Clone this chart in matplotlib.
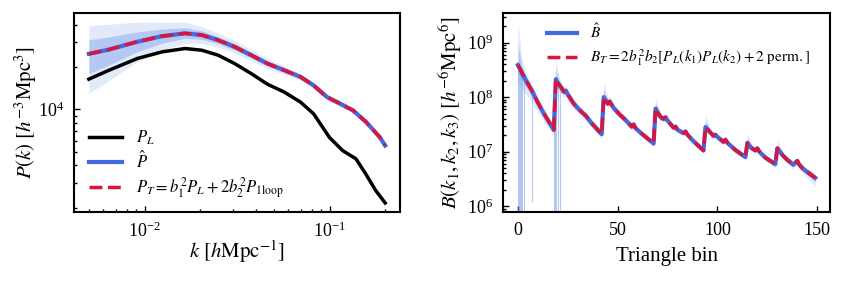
import numpy as np
import matplotlib
matplotlib.use('Agg')
import matplotlib.pyplot as plt

plt.rcParams['font.family'] = ['Liberation Serif', 'DejaVu Serif']
plt.rcParams['mathtext.fontset'] = 'stix'

# --- P(k): лінійний спектр P_L ---
k_lin = [0.005, 0.00644, 0.00914, 0.01245, 0.01656, 0.02037, 0.02495, 0.0307,
         0.0377, 0.0462, 0.0568, 0.0697, 0.0820, 0.1, 0.1178, 0.139, 0.157,
         0.178, 0.2]
p_lin = [16410, 19010, 23010, 25650, 27100, 26360, 24320, 21180, 17990, 15100,
         13300, 11270, 9310, 6310, 5090, 4450, 3475, 2640, 2160]

# --- P_T (і середнє \hat P) ---
k_nl = [0.005, 0.00644, 0.00914, 0.01245, 0.01656, 0.02037, 0.02495, 0.0307,
        0.0377, 0.0462, 0.0568, 0.0697, 0.0820, 0.0968, 0.114, 0.134, 0.158,
        0.187, 0.2]
p_tree = [24830, 26670, 30270, 33190, 34750, 33810, 31120, 27860, 24320, 21180,
          19010, 17020, 14830, 12250, 10990, 9840, 8110, 6340, 5530]
# розкид реалізацій \hat P (dex, вгору / вниз)
p_hat_hi = [0.20, 0.18, 0.14, 0.10, 0.08, 0.06, 0.05, 0.045, 0.04, 0.035,
            0.03, 0.025, 0.02, 0.02, 0.02, 0.02, 0.015, 0.015, 0.015]
p_hat_lo = [0.28, 0.22, 0.14, 0.10, 0.07, 0.06, 0.05, 0.045, 0.04, 0.035,
            0.03, 0.025, 0.02, 0.02, 0.02, 0.02, 0.015, 0.015, 0.015]

# --- B: трикутні біни ---
tri_bin = [0, 2, 4, 7, 10, 13, 16, 18,
           19, 20, 22, 23, 24, 25, 28, 31, 34, 37, 40, 42,
           43, 45, 46, 48, 51, 54, 57, 58, 59, 62, 65, 68,
           69, 71, 72, 73, 74, 75, 78, 79, 80, 83, 84, 85, 88, 93,
           94, 96, 98, 99, 100, 103, 104, 105, 109, 114,
           115, 117, 119, 120, 121, 124, 129,
           130, 133, 135, 138, 140, 141, 143, 146, 149]
b_tree = [3.89e8, 2.82e8, 2.04e8, 1.32e8, 7.94e7, 5.01e7, 3.31e7, 2.51e7,
          2.14e8, 1.82e8, 1.45e8, 1.26e8, 1.32e8, 1.12e8, 7.59e7, 5.75e7, 4.57e7, 3.31e7, 2.51e7, 2.09e7,
          1.00e8, 7.59e7, 8.32e7, 6.31e7, 4.79e7, 3.80e7, 2.88e7, 3.16e7, 2.69e7, 2.14e7, 1.74e7, 1.41e7,
          6.17e7, 4.57e7, 4.17e7, 3.98e7, 4.27e7, 3.72e7, 2.75e7, 2.88e7, 2.51e7, 2.19e7, 2.34e7, 2.04e7, 1.55e7, 1.05e7,
          2.82e7, 2.34e7, 1.95e7, 2.04e7, 1.86e7, 1.51e7, 1.66e7, 1.45e7, 1.07e7, 7.94e6,
          1.45e7, 1.17e7, 1.05e7, 1.15e7, 1.00e7, 7.76e6, 5.89e6,
          1.15e7, 8.32e6, 7.08e6, 5.75e6, 6.76e6, 5.75e6, 4.79e6, 3.98e6, 3.31e6]
b_hat_hi = [0.80, 0.25, 0.15, 0.12, 0.10, 0.10, 0.08, 0.08,
            0.38, 0.20, 0.10, 0.10, 0.10, 0.10, 0.08, 0.08, 0.08, 0.07, 0.07, 0.07,
            0.28, 0.12, 0.10, 0.08, 0.08, 0.07, 0.07, 0.07, 0.06, 0.06, 0.06, 0.06,
            0.19, 0.10, 0.08, 0.07, 0.07, 0.07, 0.06, 0.06, 0.06, 0.06, 0.06, 0.06, 0.06, 0.06,
            0.22, 0.10, 0.07, 0.06, 0.06, 0.06, 0.06, 0.06, 0.06, 0.06,
            0.17, 0.08, 0.06, 0.06, 0.06, 0.06, 0.06,
            0.15, 0.07, 0.06, 0.06, 0.06, 0.06, 0.07, 0.08, 0.08]
b_hat_lo = [0.30, 0.30, 0.25, 0.20, 0.18, 0.15, 0.12, 0.12,
            0.12, 0.12, 0.12, 0.10, 0.10, 0.10, 0.10, 0.10, 0.10, 0.08, 0.08, 0.08,
            0.08, 0.08, 0.08, 0.08, 0.07, 0.07, 0.07, 0.07, 0.06, 0.06, 0.06, 0.06,
            0.07, 0.07, 0.07, 0.07, 0.07, 0.07, 0.06, 0.06, 0.06, 0.06, 0.06, 0.06, 0.06, 0.06,
            0.07, 0.06, 0.06, 0.06, 0.06, 0.06, 0.06, 0.06, 0.06, 0.06,
            0.07, 0.06, 0.06, 0.06, 0.06, 0.06, 0.07,
            0.07, 0.07, 0.07, 0.07, 0.07, 0.07, 0.08, 0.12, 0.15]
# окремі реалізації, що падають вниз (від'ємні / дуже малі значення)
spike_bin = [0, 0.5, 1, 1.5, 2, 3, 7, 18, 18.5, 19, 20, 21]
spike_top = [3.9e8, 3.5e8, 3.3e8, 3e8, 2.8e8, 2.4e8, 1.3e8, 2.5e7, 1e8, 2.1e8, 1.8e8, 1.6e8]
spike_low = [1e5, 1e5, 1e5, 1e5, 1e5, 3e5, 1.2e6, 1e5, 1e5, 1e5, 1e5, 1e5]

BLUE = '#4169e1'
LIGHT = '#6f96ea'
RED = '#dc143c'


def style_axes(ax):
    for s in ax.spines.values():
        s.set_linewidth(1.5)
    ax.tick_params(which='both', direction='in', top=False, right=False,
                   labelsize=13, width=1, pad=7)
    ax.tick_params(which='major', length=4)
    ax.tick_params(which='minor', length=2.5)


def band(ax, x, mid, hi, lo):
    mid = np.array(mid)
    hi = np.array(hi)
    lo = np.array(lo)
    ax.fill_between(x, mid / 10 ** lo, mid * 10 ** hi, color=LIGHT, alpha=0.2, lw=0)
    ax.fill_between(x, mid / 10 ** (lo / 2), mid * 10 ** (hi / 2), color=LIGHT, alpha=0.4, lw=0)


fig = plt.figure(figsize=(8.43, 2.81), dpi=100)
ax1 = fig.add_axes([0.0878, 0.2456, 0.3867, 0.708])
ax2 = fig.add_axes([0.5967, 0.2456, 0.388, 0.708])

# ліва панель
band(ax1, k_nl, p_tree, p_hat_hi, p_hat_lo)
ax1.plot(k_lin, p_lin, color='black', lw=2.5, label=r'$P_L$')
ax1.plot(k_nl, p_tree, color=BLUE, lw=3, label=r'$\hat{P}$')
ax1.plot(k_nl, p_tree, color=RED, lw=2.5, ls='--',
         label=r'$P_T = b_1^2 P_L + 2 b_2^2 P_{1\mathrm{loop}}$')
ax1.set_xscale('log')
ax1.set_yscale('log')
ax1.set_xlabel(r'$k\ [h\mathrm{Mpc}^{-1}]$', fontsize=15, labelpad=-2)
ax1.set_ylabel(r'$P(k)\ [h^{-3}\mathrm{Mpc}^3]$', fontsize=15, labelpad=-1)
style_axes(ax1)
ax1.legend(loc='lower left', bbox_to_anchor=(0.0, -0.018), frameon=False,
           fontsize=12, labelspacing=0.2)

# права панель
band(ax2, tri_bin, b_tree, b_hat_hi, b_hat_lo)
ax2.vlines(spike_bin, spike_low, spike_top, color=LIGHT, alpha=0.5, lw=0.8)
ax2.plot(tri_bin, b_tree, color=BLUE, lw=3, label=r'$\hat{B}$')
ax2.plot(tri_bin, b_tree, color=RED, lw=2.5, ls='--',
         label=r'$B_T = 2 b_1^2 b_2 [P_L(k_1) P_L(k_2) + 2\ \mathrm{perm.}]$')
ax2.set_yscale('log')
ax2.set_ylim(7.8e5, 3.5e9)
ax2.set_xlim(-7.45, 156.45)
ax2.set_xticks([0, 50, 100, 150])
ax2.set_xlabel('Triangle bin', fontsize=15, labelpad=6)
ax2.set_ylabel(r'$B(k_1,k_2,k_3)\ [h^{-6}\mathrm{Mpc}^6]$', fontsize=15, labelpad=2)
style_axes(ax2)
ax2.legend(loc='upper left', bbox_to_anchor=(0.092, 1.02), frameon=False,
           fontsize=11, labelspacing=0.4)

fig.savefig('out.png', dpi=100)
